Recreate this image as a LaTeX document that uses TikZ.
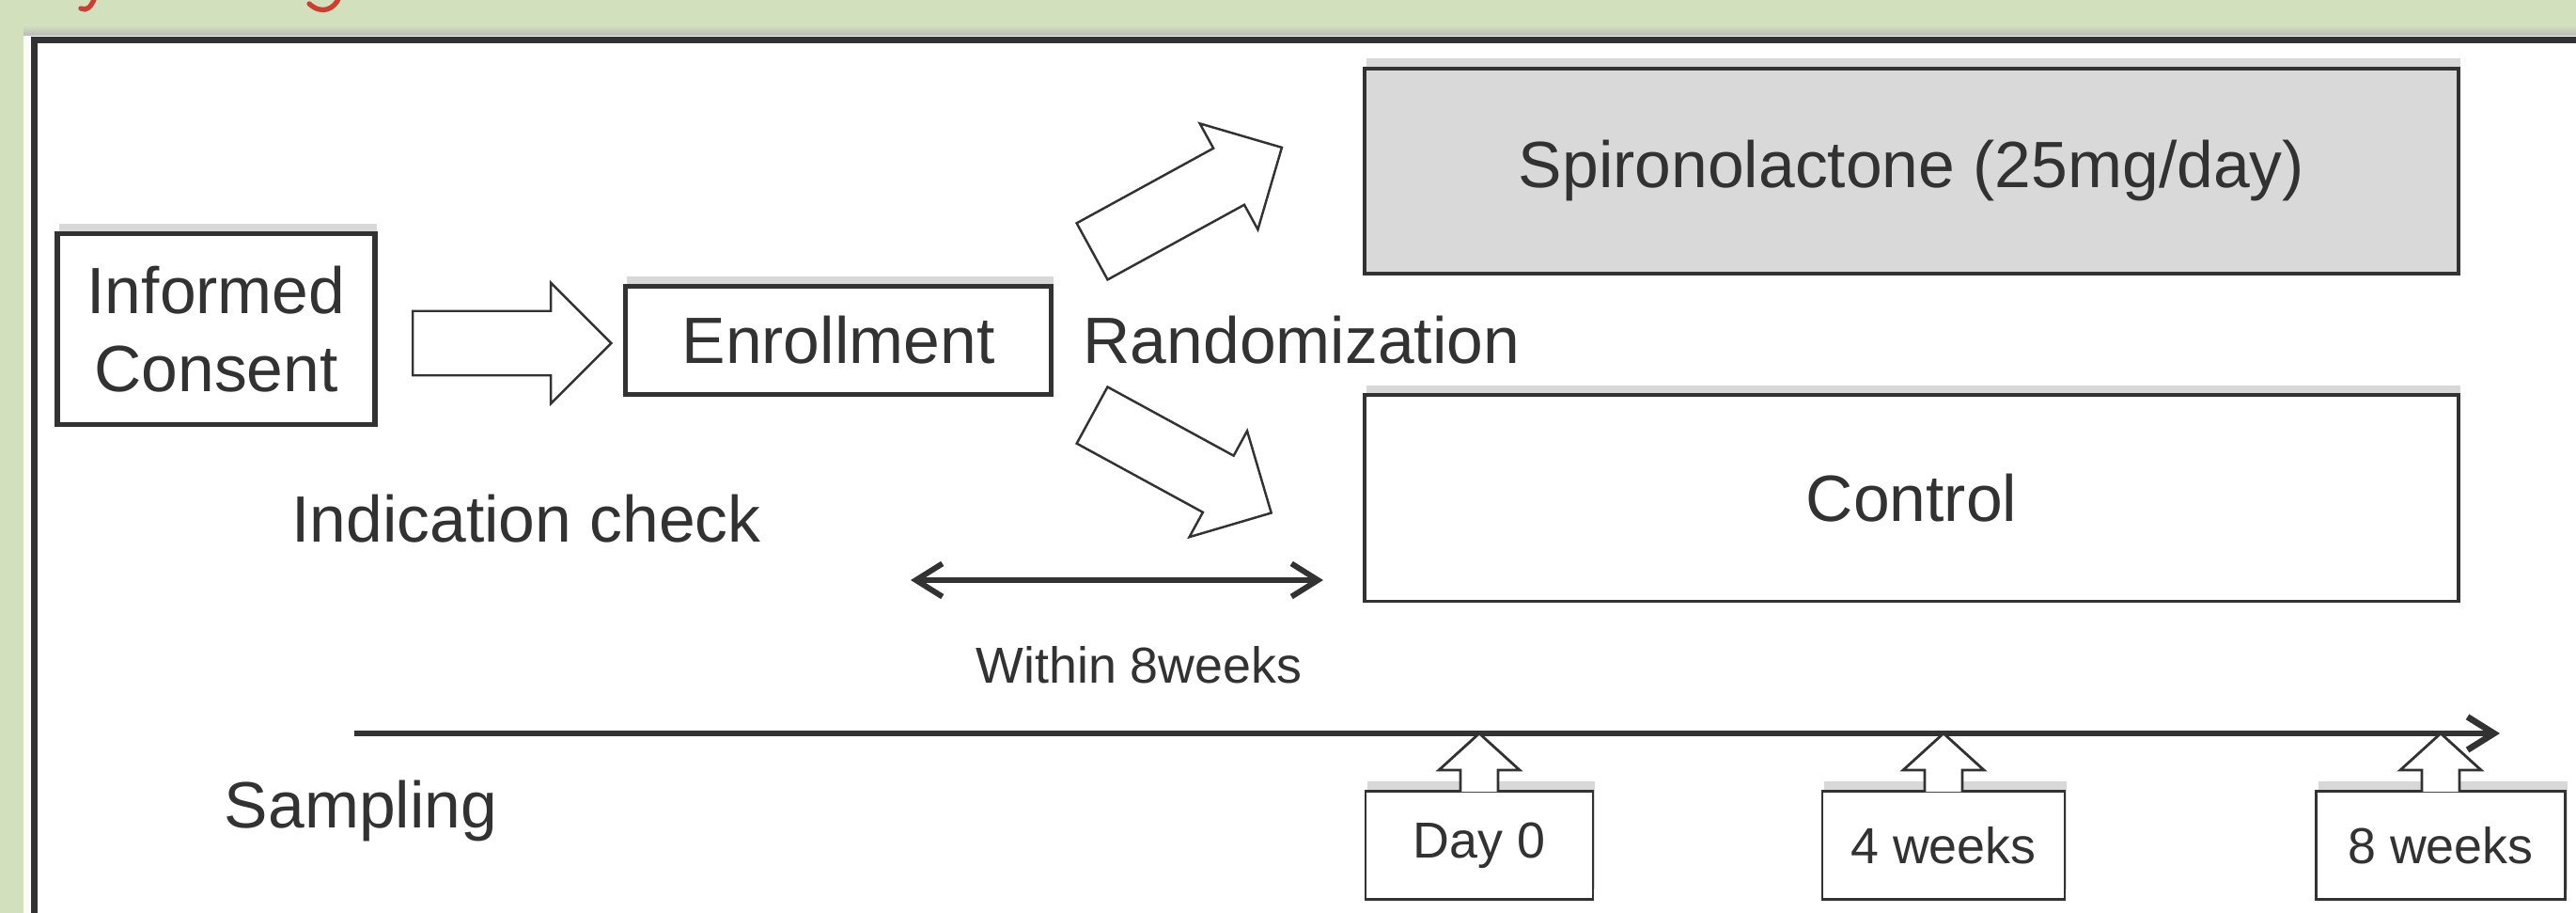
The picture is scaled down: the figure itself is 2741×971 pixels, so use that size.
\documentclass[tikz,border=0pt]{standalone}
\usepackage{fontspec}
\setmainfont{Liberation Sans}
\usetikzlibrary{arrows.meta,shapes,shadows,positioning,calc}
\definecolor{bggreen}{RGB}{211,224,190}
\definecolor{ink}{RGB}{50,50,50}
\definecolor{boxgray}{RGB}{217,217,217}
\definecolor{titlered}{RGB}{205,62,48}

\begin{document}
\begin{tikzpicture}[x=0.01cm,y=-0.01cm,
  every node/.style={text=ink,font=\fontsize{19.8}{23.6}\selectfont},
  box/.style={rectangle,draw=ink,fill=white,inner sep=0pt,align=center,
    drop shadow={shadow xshift=0.6pt,shadow yshift=3pt,opacity=0.3}},
  sbox/.style={box,line width=0.8pt,minimum height=1.15cm,
    font=\fontsize{15.3}{18}\selectfont},
  fat/.style={single arrow,draw=ink,fill=white,line width=0.7pt,inner xsep=0pt,
    inner ysep=0.33cm,single arrow head extend=0.3cm,single arrow tip angle=90},
  pin/.style={draw=ink,fill=white,line width=0.8pt,line join=miter},
  tl/.style={draw=ink,line width=1.9pt,-{Straight Barb[length=8pt,width=10pt]}},
  dbl/.style={draw=ink,line width=1.7pt,{Straight Barb[length=8pt,width=10pt]}-{Straight Barb[length=8pt,width=10pt]}}]
\useasboundingbox (0,0) rectangle (2741,971);
\fill[bggreen] (0,0) rectangle (2741,971);
\draw[titlered,line width=1.5pt,line cap=round] (101,-3) .. controls (97,8) and (92,12) .. (86,9);
\draw[titlered,line width=1.5pt,line cap=round] (361,-3) .. controls (356,10) and (342,16) .. (329,4);
\fill[white!92!bggreen] (25,27) rectangle (33,971);
\shade[top color=bggreen,bottom color=gray!55] (25,27) rectangle (2741,38);
\fill[white] (33,38) rectangle (2741,971);
\draw[ink,line width=2.2pt] (36.5,971) -- (36.5,42.5) -- (2741,42.5);

\node[box,line width=1.6pt,minimum width=3.38cm,minimum height=2.03cm] (ic) at (230,350) {Informed\\Consent};
\node[box,line width=1.6pt,minimum width=4.53cm,minimum height=1.15cm] (en) at (892,362) {Enrollment};
\node[box,fill=boxgray,line width=1.1pt,minimum width=11.63cm,minimum height=2.18cm] (sp) at (2034,182) {Spironolactone (25mg/day)};
\node[box,line width=1.1pt,minimum width=11.63cm,minimum height=2.19cm] (co) at (2034,530) {Control};
\node[anchor=west,inner sep=0pt] (ra) at (1152,362) {Randomization};
\node (ind) at (560,552) {Indication check};
\node (sa) at (384,863) {Sampling};

\node[fat,minimum height=2.11cm,anchor=tail] (a0) at (438,365) {};
\node[fat,minimum height=2.3cm,anchor=tail,rotate=28.7] (a1) at (1161,268) {};
\node[fat,minimum height=2.17cm,anchor=tail,rotate=-28.6] (a2) at (1161,441) {};

\coordinate (w0) at (969,617);
\coordinate (w1) at (1408,617);
\draw[dbl] (w0) -- (w1);
\node[font=\fontsize{15.3}{18}\selectfont] (wk) at (1212,707) {Within 8weeks};

\coordinate (t0) at (377,780);
\coordinate (t1) at (2660,780);
\draw[tl] (t0) -- (t1);

\node[sbox,minimum width=2.42cm] (d0) at (1574,899) {Day 0};
\node[sbox,minimum width=2.58cm] (w4) at (2068,899) {4 weeks};
\node[sbox,minimum width=2.65cm] (w8) at (2597,899) {8 weeks};
\foreach \b in {d0,w4,w8}
  \filldraw[pin] ($(\b.north)+(-20,2)$) -- ($(\b.north)+(-20,-21)$) -- ($(\b.north)+(-43,-21)$)
    -- (\b.north |- t0) -- ($(\b.north)+(43,-21)$) -- ($(\b.north)+(20,-21)$) -- ($(\b.north)+(20,2)$);
\end{tikzpicture}
\end{document}
